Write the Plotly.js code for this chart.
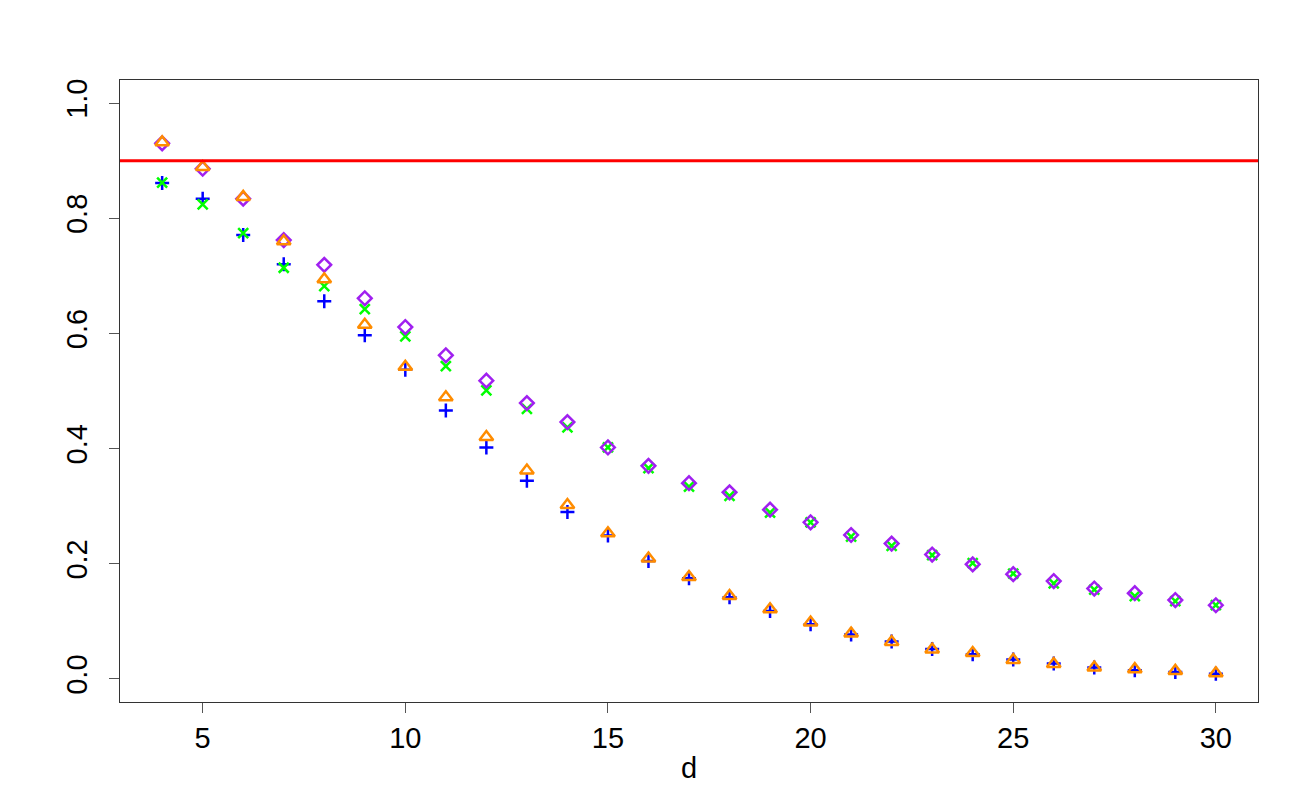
<!DOCTYPE html>
<html>
<head>
<meta charset="utf-8">
<script src="https://cdn.plot.ly/plotly-3.0.1.min.js"></script>
<style>html,body{margin:0;padding:0;background:#fff;}#chart{width:1300px;height:800px;}</style>
</head>
<body>
<div id="chart"></div>
<script>
const d = [4,5,6,7,8,9,10,11,12,13,14,15,16,17,18,19,20,21,22,23,24,25,26,27,28,29,30];
const bluePlus = [0.861,0.834,0.771,0.720,0.656,0.597,0.537,0.466,0.402,0.344,0.290,0.249,0.205,0.175,0.142,0.118,0.095,0.077,0.065,0.052,0.043,0.034,0.027,0.020,0.015,0.012,0.009];
const greenX = [0.862,0.824,0.774,0.714,0.682,0.642,0.595,0.543,0.501,0.469,0.437,0.402,0.366,0.334,0.318,0.289,0.272,0.247,0.231,0.215,0.201,0.183,0.166,0.155,0.144,0.135,0.128];
const purpleDiamond = [0.930,0.886,0.834,0.762,0.719,0.661,0.611,0.562,0.518,0.479,0.446,0.402,0.370,0.340,0.324,0.294,0.272,0.250,0.235,0.216,0.199,0.182,0.170,0.157,0.149,0.137,0.128];
const orangeTriangle = [0.932,0.889,0.837,0.760,0.694,0.615,0.542,0.489,0.420,0.362,0.302,0.253,0.209,0.177,0.144,0.121,0.098,0.079,0.064,0.051,0.045,0.033,0.026,0.020,0.017,0.014,0.010];
const refLevel = 0.9;
const yTicks = [0,0.2,0.4,0.6,0.8,1.0];
const xTicks = [5,10,15,20,25,30];

function tr(y, sym, color, size){
  return {x:d, y:y, type:'scatter', mode:'markers', showlegend:false, hoverinfo:'skip',
    marker:{symbol:sym, size:size, color:color, line:{color:color, width:2.5}}};
}
const data = [
  tr(bluePlus,'cross-thin-open','#0000FF',10),
  tr(greenX,'x-thin-open','#00FF00',10),
  tr(purpleDiamond,'diamond-open','#A020F0',10.5),
  tr(orangeTriangle,'triangle-up-open','#FF8C00',12)
];
const font = {family:'Liberation Sans, Arial, sans-serif', size:29, color:'#000'};
const layout = {
  width:1300, height:800,
  margin:{l:120, r:42, t:80, b:98},
  paper_bgcolor:'#fff', plot_bgcolor:'#fff',
  font:font,
  xaxis:{range:[2.96,31.04], tickvals:xTicks, ticks:'outside', ticklen:10, tickwidth:1, tickcolor:'#555',
    showgrid:false, zeroline:false, showline:true, mirror:true, linecolor:'#333', linewidth:1,
    tickfont:font, title:{text:'d', font:font, standoff:4}},
  yaxis:{range:[-0.04,1.04], tickvals:yTicks, tickformat:'.1f', ticks:'outside', ticklen:10, tickwidth:1, tickcolor:'#555',
    showgrid:false, zeroline:false, showline:true, mirror:true, linecolor:'#333', linewidth:1,
    tickangle:-90, tickfont:font, ticklabelstandoff:10},
  shapes:[{type:'line', xref:'paper', x0:0, x1:1, yref:'y', y0:refLevel, y1:refLevel, line:{color:'#FF0000', width:3}}]
};
Plotly.newPlot('chart', data, layout, {staticPlot:true});
</script>
</body>
</html>
